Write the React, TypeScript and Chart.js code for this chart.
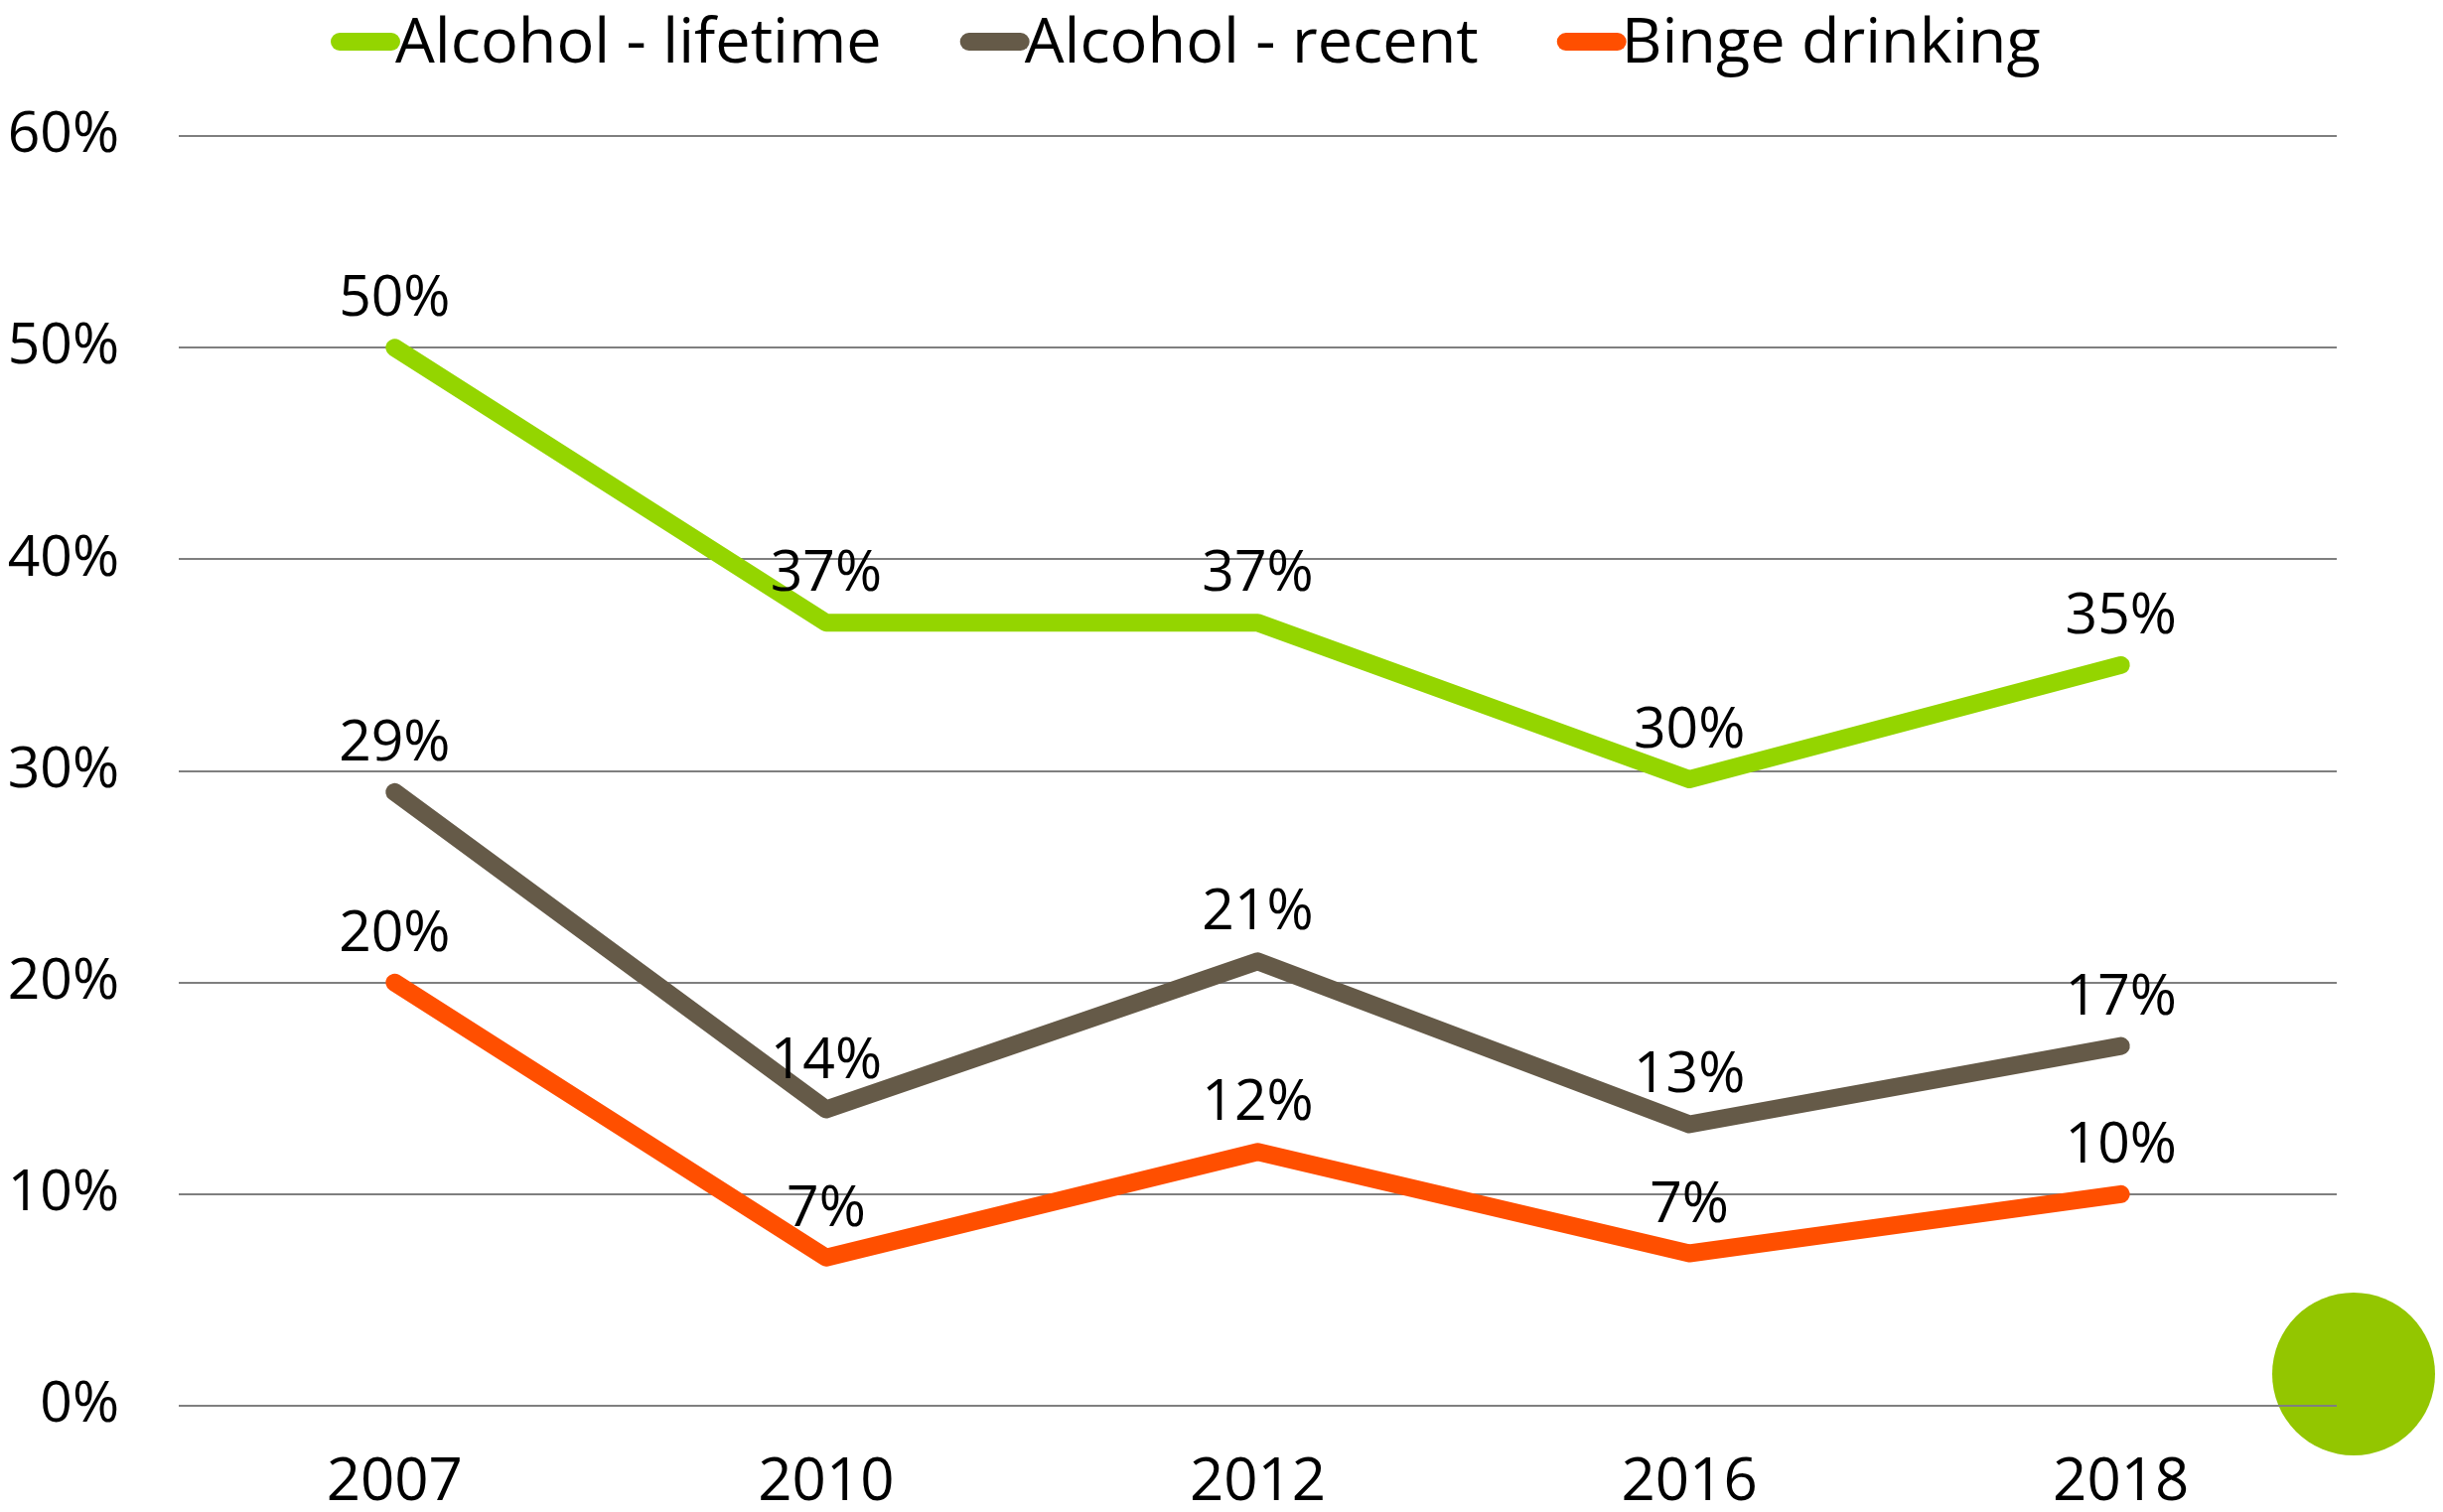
import React, { useEffect, useRef } from "react";
import { Chart, registerables } from "chart.js";

Chart.register(...registerables);

const years = ["2007", "2010", "2012", "2016", "2018"];
const alcoholLifetime = [50, 37, 37, 29.6, 35];
const alcoholRecent = [29, 14, 21, 13.3, 17];
const bingeDrinking = [20, 7, 12, 7.2, 10];
const seriesNames = ["Alcohol - lifetime", "Alcohol - recent", "Binge drinking"];
const seriesColors = ["#94D500", "#655A48", "#FF4F00"];
const yMin = 0;
const yMax = 60;
const yStep = 10;

const FONT = "'Open Sans', 'Noto Sans', sans-serif";

const decorPlugin = {
  id: "decorCircle",
  beforeDraw(chart: any) {
    const ctx = chart.ctx;
    ctx.save();
    ctx.fillStyle = "#93C600";
    ctx.beginPath();
    ctx.arc(2370, 1384, 82, 0, Math.PI * 2);
    ctx.fill();
    ctx.restore();
  },
};

const dataLabelPlugin = {
  id: "dataLabels",
  afterDatasetsDraw(chart: any) {
    const ctx = chart.ctx;
    ctx.save();
    ctx.font = `57px ${FONT}`;
    ctx.fillStyle = "#000000";
    ctx.textAlign = "center";
    ctx.textBaseline = "alphabetic";
    chart.data.datasets.forEach((ds: any, i: number) => {
      const meta = chart.getDatasetMeta(i);
      meta.data.forEach((pt: any, j: number) => {
        const v = ds.data[j] as number;
        ctx.fillText(Math.round(v) + "%", pt.x, pt.y - 32);
      });
    });
    ctx.restore();
  },
};

const legendPlugin = {
  id: "customLegend",
  afterDraw(chart: any) {
    const ctx = chart.ctx;
    ctx.save();
    ctx.font = `63px ${FONT}`;
    ctx.textBaseline = "alphabetic";
    ctx.textAlign = "left";
    let x = 333;
    chart.data.datasets.forEach((ds: any) => {
      ctx.fillStyle = ds.borderColor;
      ctx.beginPath();
      (ctx as any).roundRect(x, 33, 70, 18, 9);
      ctx.fill();
      const tx = x + 65;
      ctx.fillStyle = "#000000";
      ctx.fillText(ds.label, tx, 63);
      x = tx + ctx.measureText(ds.label).width + 79;
    });
    ctx.restore();
  },
};

export default function App() {
  const canvasRef = useRef<HTMLCanvasElement | null>(null);

  useEffect(() => {
    if (!canvasRef.current) return;
    const seriesData = [alcoholLifetime, alcoholRecent, bingeDrinking];
    const chart = new Chart(canvasRef.current, {
      type: "line",
      data: {
        labels: years,
        datasets: seriesData.map((d, i) => ({
          label: seriesNames[i],
          data: d,
          borderColor: seriesColors[i],
          backgroundColor: seriesColors[i],
          borderWidth: 18,
          borderCapStyle: "round",
          borderJoinStyle: "round",
          pointRadius: 0,
          pointHoverRadius: 0,
          tension: 0,
          fill: false,
        })),
      },
      options: {
        responsive: false,
        animation: false,
        events: [],
        layout: { padding: { top: 137, right: 107, bottom: 0, left: 0 } },
        plugins: {
          legend: { display: false },
          tooltip: { enabled: false },
          title: { display: false },
        },
        scales: {
          x: {
            offset: true,
            grid: { display: false, drawTicks: false },
            border: { display: false },
            ticks: {
              color: "#000000",
              font: { family: FONT, size: 60 },
              padding: 42,
              maxRotation: 0,
            },
            afterFit(scale: any) {
              scale.height = 107;
            },
          },
          y: {
            min: yMin,
            max: yMax,
            grid: { color: "#7F7F7F", lineWidth: 2, drawTicks: false },
            border: { display: false },
            ticks: {
              stepSize: yStep,
              color: "#000000",
              font: { family: FONT, size: 57 },
              padding: 60,
              callback: (v: any) => v + "%",
            },
            afterFit(scale: any) {
              scale.width = 180;
            },
          },
        },
      },
      plugins: [decorPlugin, dataLabelPlugin, legendPlugin],
    } as any);
    return () => chart.destroy();
  }, []);

  return (
    <div style={{ position: "absolute", left: 0, top: 0, width: 2460, height: 1523, background: "#FFFFFF" }}>
      <canvas ref={canvasRef} width={2460} height={1523} style={{ display: "block", width: 2460, height: 1523 }} />
    </div>
  );
}
